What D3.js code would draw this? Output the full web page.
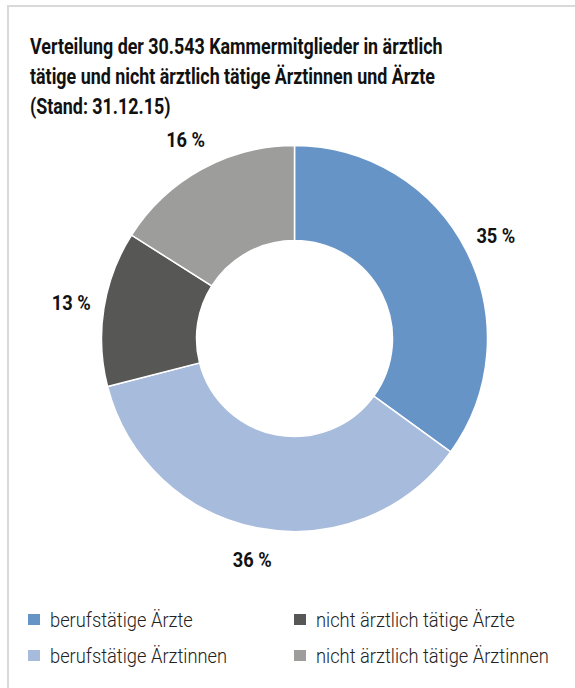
<!DOCTYPE html>
<html>
<head>
<meta charset="utf-8">
<script src="https://cdn.jsdelivr.net/npm/d3@7"></script>
<style>
  body { margin: 0; background: #fff; }
  svg { display: block; }
</style>
</head>
<body>
<div class="chart"></div>
<script>
// Data
const categories = [
    "berufstätige Ärzte",
    "berufstätige Ärztinnen",
    "nicht ärztlich tätige Ärzte",
    "nicht ärztlich tätige Ärztinnen",
]
const shares = [35, 36, 13, 16]
const colors = ["#6794c7", "#a7bbdc", "#575756", "#9d9d9c"]
const titleLines = [
    "Verteilung der 30.543 Kammermitglieder in ärztlich",
    "tätige und nicht ärztlich tätige Ärztinnen und Ärzte",
    "(Stand: 31.12.15)",
]

const font = "Roboto, 'Noto Sans', sans-serif"

// Dimensions
const dimensions = {
    width: 575,
    height: 688,
    cx: 294.5,
    cy: 338.5,
    outer: 193,
    inner: 98,
    labelRadius: 226,
}

// condensed look: squeeze a text group so its first string gets the wanted width
function squeeze(selection, wantedWidth) {
    const natural = selection.node().getComputedTextLength()
    return wantedWidth / natural
}

const wrapper = d3.select(".chart")
    .append("svg")
    .attr("width", dimensions.width)
    .attr("height", dimensions.height)

// frame (top + left edge only)
wrapper.append("path")
    .attr("d", `M8,${dimensions.height} V6 H${dimensions.width}`)
    .attr("fill", "none")
    .attr("stroke", "#d9d9d9")
    .attr("stroke-width", 2)

// Title
const titleText = wrapper.selectAll(".title")
    .data(titleLines)
    .join("text")
    .attr("class", "title")
    .attr("font-family", font)
    .attr("font-weight", "bold")
    .attr("font-size", 22.5)
    .attr("fill", "#111")
    .text(d => d)

const titleScale = squeeze(titleText, 413)
titleText.attr("transform", (d, i) => `translate(30,${54 + i * 30}) scale(${titleScale},1)`)

// Donut
const pie = d3.pie().sort(null).value(d => d)
const arcs = pie(shares)

const arc = d3.arc()
    .innerRadius(dimensions.inner)
    .outerRadius(dimensions.outer)

const labelArc = d3.arc()
    .innerRadius(dimensions.labelRadius)
    .outerRadius(dimensions.labelRadius)

const bounds = wrapper.append("g")
    .attr("transform", `translate(${dimensions.cx},${dimensions.cy})`)

bounds.selectAll("path")
    .data(arcs)
    .join("path")
    .attr("d", arc)
    .attr("fill", (d, i) => colors[i])
    .attr("stroke", "#fff")
    .attr("stroke-width", 1.5)

const labels = bounds.selectAll("text")
    .data(arcs)
    .join("text")
    .attr("text-anchor", "middle")
    .attr("dominant-baseline", "central")
    .attr("font-family", font)
    .attr("font-weight", "bold")
    .attr("font-size", 20.5)
    .attr("fill", "#111")
    .text(d => `${d.data} %`)

const labelScale = squeeze(labels, 39)
labels.attr("transform", d => `translate(${labelArc.centroid(d)}) scale(${labelScale},1)`)

// Legend
const legend = wrapper.append("g")
    .selectAll("g")
    .data(categories)
    .join("g")
    .attr("transform", (d, i) => `translate(${28 + Math.floor(i / 2) * 266},${620 + (i % 2) * 36})`)

legend.append("rect")
    .attr("x", 0)
    .attr("y", -6)
    .attr("width", 12)
    .attr("height", 11)
    .attr("fill", (d, i) => colors[i])

const legendText = legend.append("text")
    .attr("dominant-baseline", "central")
    .attr("font-family", font)
    .attr("font-weight", 300)
    .attr("font-size", 20)
    .attr("fill", "#222")
    .text(d => d)

const legendScale = squeeze(legendText, 143)
legendText.attr("transform", `translate(22,0) scale(${legendScale},1)`)
</script>
</body>
</html>
